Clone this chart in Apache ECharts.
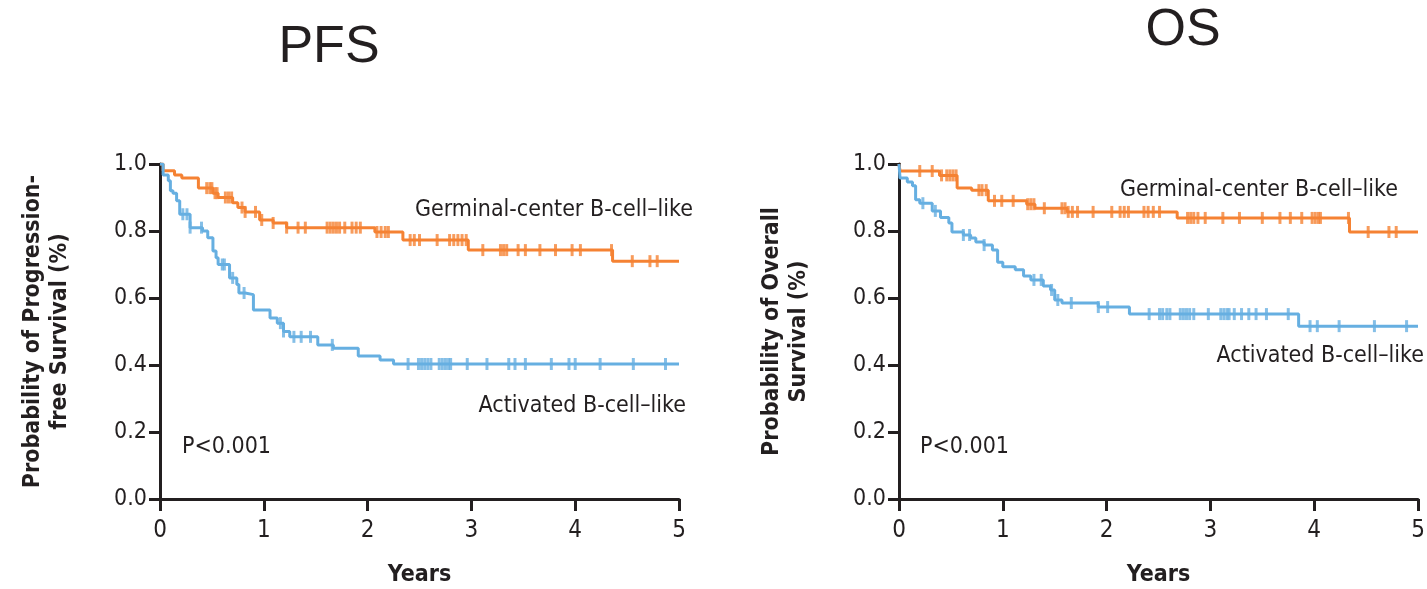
<!DOCTYPE html>
<html>
<head>
<meta charset="utf-8">
<script src="https://cdn.jsdelivr.net/npm/echarts@6/dist/echarts.min.js"></script>
<style>
html,body{margin:0;padding:0;background:#fff;}
#c{width:1427px;height:589px;}
</style>
</head>
<body>
<div id="c"></div>
<script>
// ---------- DATA ----------
const xTicks = [0, 1, 2, 3, 4, 5];
const yTicks = [0.0, 0.2, 0.4, 0.6, 0.8, 1.0];
const panelTitles = ['PFS', 'OS'];
const groupNames = ['Germinal-center B-cell\u2013like', 'Activated B-cell\u2013like'];
const pText = 'P<0.001';
const xName = 'Years';
const yNames = ['Probability of Progression-\nfree Survival (%)', 'Probability of Overall\nSurvival (%)'];

// Kaplan-Meier steps: [time (years), survival]
const pfsGcbSteps = [[0,1],[0.03,0.98],[0.14,0.967],[0.21,0.958],[0.37,0.928],[0.51,0.913],[0.56,0.90],[0.70,0.884],[0.75,0.87],[0.82,0.857],[0.96,0.833],[1.09,0.824],[1.22,0.81],[2.07,0.797],[2.34,0.773],[2.97,0.743],[4.36,0.71],[5,0.71]];
const pfsGcbCensor = [0.45,0.48,0.5,0.53,0.55,0.63,0.66,0.69,0.79,0.82,0.92,0.98,1.09,1.22,1.33,1.40,1.61,1.64,1.67,1.70,1.73,1.78,1.85,1.89,1.93,2.09,2.13,2.17,2.2,2.41,2.45,2.5,2.67,2.79,2.83,2.87,2.91,2.95,3.11,3.28,3.31,3.34,3.45,3.52,3.66,3.81,3.97,4.05,4.35,4.55,4.72,4.79];

const pfsAbcSteps = [[0,1],[0.03,0.967],[0.08,0.95],[0.10,0.92],[0.125,0.913],[0.16,0.89],[0.19,0.85],[0.29,0.81],[0.41,0.80],[0.46,0.78],[0.51,0.74],[0.54,0.72],[0.56,0.70],[0.67,0.66],[0.74,0.64],[0.76,0.615],[0.82,0.61],[0.90,0.564],[1.06,0.54],[1.13,0.525],[1.19,0.50],[1.25,0.484],[1.52,0.46],[1.67,0.45],[1.91,0.427],[2.12,0.415],[2.25,0.403],[5,0.403]];
const pfsAbcCensor = [0.22,0.26,0.29,0.40,0.60,0.62,0.70,0.81,1.16,1.19,1.29,1.36,1.45,1.66,2.39,2.49,2.52,2.55,2.58,2.61,2.69,2.72,2.75,2.78,2.80,2.96,3.15,3.36,3.42,3.52,3.77,3.94,4.0,4.24,4.56,4.87];

const osGcbSteps = [[0,1],[0.01,0.979],[0.39,0.966],[0.56,0.928],[0.70,0.922],[0.86,0.89],[1.23,0.88],[1.31,0.868],[1.62,0.857],[2.68,0.839],[4.34,0.797],[5,0.797]];
const osGcbCensor = [0.2,0.32,0.41,0.46,0.49,0.52,0.55,0.77,0.80,0.84,0.92,0.99,1.1,1.24,1.27,1.3,1.4,1.57,1.60,1.63,1.67,1.72,1.87,2.05,2.13,2.17,2.21,2.36,2.40,2.45,2.51,2.78,2.81,2.84,2.88,2.95,3.12,3.28,3.5,3.67,3.77,3.88,3.98,4.01,4.04,4.06,4.33,4.52,4.72,4.79];

const osAbcSteps = [[0,1],[0.01,0.958],[0.08,0.946],[0.13,0.935],[0.16,0.893],[0.2,0.883],[0.32,0.86],[0.4,0.84],[0.48,0.824],[0.51,0.797],[0.62,0.788],[0.69,0.779],[0.74,0.767],[0.82,0.758],[0.9,0.743],[0.95,0.707],[1.0,0.693],[1.12,0.684],[1.2,0.666],[1.27,0.654],[1.39,0.636],[1.46,0.624],[1.50,0.594],[1.57,0.585],[1.92,0.573],[2.22,0.552],[3.85,0.516],[5,0.516]];
const osAbcCensor = [0.23,0.35,0.62,0.68,0.82,1.3,1.37,1.47,1.53,1.66,1.92,2.01,2.41,2.51,2.54,2.58,2.61,2.71,2.74,2.77,2.8,2.84,2.98,3.1,3.13,3.16,3.18,3.23,3.3,3.37,3.44,3.54,3.75,3.96,4.03,4.24,4.58,4.89];

// ---------- STYLE ----------
const ORANGE = '#F58233';
const BLUE = '#66AFE1';
const INK = '#231F20';
const FONT = '"Liberation Sans", Arial, sans-serif';
const CFONT = '"DejaVu Sans Condensed", "DejaVu Sans", sans-serif';

function survAt(steps, t) {
  let s = steps[0][1];
  for (const p of steps) { if (p[0] <= t) s = p[1]; else break; }
  return s;
}
function censorData(steps, times) { return times.map(t => [t, survAt(steps, t)]); }

function xAxisCfg(grid) {
  return {
    gridIndex: grid, type: 'value', min: 0, max: 5, interval: 1,
    name: xName, nameLocation: 'middle', nameGap: 65,
    nameTextStyle: { fontFamily: CFONT, fontSize: 23, fontWeight: 'bold', color: INK, lineHeight: 22 },
    axisLine: { show: true, lineStyle: { color: INK, width: 3 } },
    axisTick: { show: true, length: 12, lineStyle: { color: INK, width: 3 } },
    axisLabel: { fontFamily: CFONT, fontSize: 24, color: INK, margin: 20,
      formatter: v => xTicks.includes(v) ? String(v) : '' },
    splitLine: { show: false }
  };
}
function yAxisCfg(grid, name) {
  return {
    gridIndex: grid, type: 'value', min: 0, max: 1, interval: 0.2,
    name: name, nameLocation: 'middle', nameRotate: 90, nameGap: 86,
    nameTextStyle: { fontFamily: CFONT, fontSize: 23, fontWeight: 'bold', color: INK, lineHeight: 27 },
    axisLine: { show: true, lineStyle: { color: INK, width: 3 } },
    axisTick: { show: true, length: 11, lineStyle: { color: INK, width: 3 } },
    axisLabel: { fontFamily: CFONT, fontSize: 23, color: INK, margin: 13,
      formatter: v => yTicks.some(y => Math.abs(y - v) < 1e-9) ? v.toFixed(1) : '' },
    splitLine: { show: false }
  };
}
function stepSeries(steps, color, gi) {
  return { type: 'line', step: 'end', data: steps, xAxisIndex: gi, yAxisIndex: gi,
    showSymbol: false, symbol: 'none', lineStyle: { color: color, width: 3 }, z: 2 };
}
function censorSeries(steps, times, color, gi) {
  return { type: 'scatter', data: censorData(steps, times), xAxisIndex: gi, yAxisIndex: gi,
    symbol: 'rect', symbolSize: [3, 12], itemStyle: { color: color }, z: 3 };
}
function txt(x, y, text, align, size, fam) {
  return { type: 'text', x: x, y: y, style: { text: text, fill: INK, font: 'normal ' + size + 'px ' + fam,
    textAlign: align, textVerticalAlign: 'middle' } };
}

const chart = echarts.init(document.getElementById('c'), null, { renderer: 'canvas' });
chart.setOption({
  animation: false,
  backgroundColor: '#fff',
  grid: [
    { left: 160, right: 748, top: 164, bottom: 90, containLabel: false, outerBoundsMode: 'none' },
    { left: 899, right: 9, top: 164, bottom: 90, containLabel: false, outerBoundsMode: 'none' }
  ],
  xAxis: [xAxisCfg(0), xAxisCfg(1)],
  yAxis: [yAxisCfg(0, yNames[0]), yAxisCfg(1, yNames[1])],
  series: [
    stepSeries(pfsGcbSteps, ORANGE, 0),
    stepSeries(pfsAbcSteps, BLUE, 0),
    censorSeries(pfsGcbSteps, pfsGcbCensor, ORANGE, 0),
    censorSeries(pfsAbcSteps, pfsAbcCensor, BLUE, 0),
    stepSeries(osGcbSteps, ORANGE, 1),
    stepSeries(osAbcSteps, BLUE, 1),
    censorSeries(osGcbSteps, osGcbCensor, ORANGE, 1),
    censorSeries(osAbcSteps, osAbcCensor, BLUE, 1)
  ],
  graphic: [
    txt(329, 48, panelTitles[0], 'center', 52, FONT),
    txt(1183, 31, panelTitles[1], 'center', 52, FONT),
    txt(415, 210, groupNames[0], 'left', 23, CFONT),
    txt(686, 406, groupNames[1], 'right', 23, CFONT),
    txt(182, 447, pText, 'left', 23, CFONT),
    txt(1120, 190, groupNames[0], 'left', 23, CFONT),
    txt(1424, 356, groupNames[1], 'right', 23, CFONT),
    txt(920, 447, pText, 'left', 23, CFONT)
  ]
});
</script>
</body>
</html>
